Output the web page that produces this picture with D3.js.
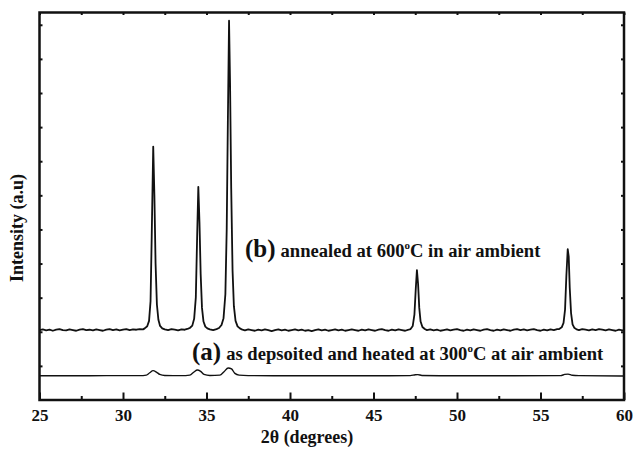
<!DOCTYPE html>
<html>
<head>
<meta charset="utf-8">
<script src="https://cdn.jsdelivr.net/npm/d3@7"></script>
<style>
body{margin:0;background:#fff;}
#canvas{width:633px;height:452px;}
text{font-family:"Liberation Serif","Times New Roman",serif;font-weight:bold;fill:#111;}
</style>
</head>
<body>
<div id="canvas"></div>
<script>
// tick labels
var xMajor = [25,30,35,40,45,50,55,60];
var xMinor = [27.5,32.5,37.5,42.5,47.5,52.5,57.5];
var yTicks = [100,200,300,400,500,600,700,800,900,1000,1100];

// (b) annealed at 600C : [2theta, intensity]
var traceB = [
[25.0,205],[25.2,207],[25.4,204],[25.6,206],[25.8,203],[26.0,206],[26.2,208],[26.4,205],[26.6,204],[26.8,207],
[27.0,205],[27.2,203],[27.4,206],[27.6,208],[27.8,205],[28.0,206],[28.2,204],[28.4,207],[28.6,205],[28.8,203],
[29.0,206],[29.2,208],[29.4,205],[29.6,207],[29.8,204],[30.0,206],[30.2,208],[30.4,205],[30.6,207],[30.8,206],
[31.0,208],[31.2,207],[31.3,210],[31.45,216],[31.56,232],[31.65,290],[31.72,480],[31.81,743],[31.88,600],[31.95,400],
[32.03,280],[32.12,235],[32.22,217],[32.35,210],[32.5,207],[32.7,205],[32.9,208],[33.1,206],[33.3,204],[33.5,207],
[33.7,206],[33.9,209],[34.0,211],[34.15,218],[34.26,238],[34.36,300],[34.44,480],[34.51,625],[34.58,520],[34.65,370],
[34.73,270],[34.82,230],[34.93,215],[35.05,210],[35.2,207],[35.4,205],[35.6,208],[35.75,211],[35.9,220],[36.02,240],
[36.13,310],[36.21,500],[36.28,820],[36.35,1112],[36.41,930],[36.48,620],[36.56,380],[36.64,275],[36.74,232],[36.86,216],
[37.0,210],[37.15,206],[37.3,204],[37.5,207],[37.7,205],[37.9,203],[38.1,206],[38.3,204],[38.5,207],[38.7,205],
[38.9,202],[39.1,205],[39.3,207],[39.5,204],[39.7,206],[39.9,203],[40.1,205],[40.3,207],[40.5,204],[40.7,206],
[40.9,203],[41.1,205],[41.3,202],[41.5,205],[41.7,207],[41.9,204],[42.1,206],[42.3,203],[42.5,205],[42.7,207],
[42.9,204],[43.1,206],[43.3,203],[43.5,205],[43.7,207],[43.9,205],[44.1,203],[44.3,206],[44.5,204],[44.7,207],
[44.9,205],[45.1,203],[45.3,206],[45.5,208],[45.7,205],[45.9,203],[46.1,206],[46.3,204],[46.5,207],[46.7,205],
[46.9,203],[47.1,206],[47.22,208],[47.35,217],[47.45,250],[47.53,325],[47.6,381],[47.67,340],[47.74,270],[47.82,230],
[47.93,214],[48.07,208],[48.2,205],[48.4,207],[48.6,204],[48.8,206],[49.0,203],[49.2,205],[49.4,207],[49.6,204],
[49.8,206],[50.0,208],[50.2,205],[50.4,203],[50.6,206],[50.8,204],[51.0,207],[51.2,205],[51.4,203],[51.6,206],
[51.8,208],[52.0,205],[52.2,203],[52.4,206],[52.6,204],[52.8,207],[53.0,205],[53.2,203],[53.4,206],[53.6,208],
[53.8,205],[54.0,207],[54.2,204],[54.4,206],[54.6,208],[54.8,205],[55.0,203],[55.2,206],[55.4,204],[55.6,207],
[55.8,205],[56.0,208],[56.12,208],[56.27,213],[56.38,226],[56.47,265],[56.55,365],[56.63,442],[56.69,420],[56.75,330],
[56.83,255],[56.92,222],[57.02,212],[57.16,207],[57.3,205],[57.5,208],[57.7,206],[57.9,204],[58.1,207],[58.3,205],
[58.5,208],[58.7,206],[58.9,204],[59.1,207],[59.3,205],[59.5,203],[59.7,206],[59.9,204],[60.0,205]
];

// (a) as deposited, heated at 300C
var traceA = [
[25.0,71],[27.0,71],[29.0,71.5],[31.0,71.5],[31.4,73],[31.6,80],[31.8,86],[32.0,82],[32.2,75],[32.5,72],
[33.5,71.5],[34.0,73],[34.25,82],[34.45,88],[34.65,84],[34.85,75],[35.2,72],[35.8,73],[36.05,83],[36.3,94],
[36.5,91],[36.7,78],[36.95,73],[37.5,71.5],[40.0,71],[44.0,71],[47.2,71.5],[47.5,74],[47.65,74.5],[47.9,72],
[50.0,71],[56.2,71.5],[56.45,75],[56.65,76],[56.9,72.5],[57.3,71.5],[60.0,70.5]
];

var pLeft = 39.5, pRight = 624, pTop = 12.5, pBottom = 400;

var init = function(){
	var svg = d3.select("#canvas").append("svg");
	svg.attr("id","svg");
	svg.attr("width",633);
	svg.attr("height",452);

	var x = d3.scaleLinear().domain([25,60]).range([pLeft,pRight]);
	var y = d3.scaleLinear().domain([0,1136]).range([pBottom,pTop]);

	var line = d3.line()
		.x(function(d){return x(d[0]);})
		.y(function(d){return y(d[1]);});

	svg.append("path")
		.attr("d",line(traceB))
		.attr("fill","none")
		.attr("stroke","#111")
		.attr("stroke-width",1.8)
		.attr("stroke-linejoin","round");

	var smooth = d3.line()
		.curve(d3.curveMonotoneX)
		.x(function(d){return x(d[0]);})
		.y(function(d){return y(d[1]);});

	svg.append("path")
		.attr("d",smooth(traceA))
		.attr("fill","none")
		.attr("stroke","#111")
		.attr("stroke-width",1.4);

	// axes, ticks inward on all four sides
	var bot = svg.append("g").attr("transform","translate(0,"+pBottom+")");
	bot.call(d3.axisBottom(x).tickValues(xMajor).tickSize(-7.5).tickFormat(d3.format("d")).tickPadding(9));
	var botMinor = svg.append("g").attr("transform","translate(0,"+pBottom+")");
	botMinor.call(d3.axisBottom(x).tickValues(xMinor).tickSize(-4).tickFormat(""));

	var topAx = svg.append("g").attr("transform","translate(0,"+pTop+")");
	topAx.call(d3.axisTop(x).tickValues(xMajor.concat(xMinor)).tickSize(-2.5).tickFormat(""));

	var leftAx = svg.append("g").attr("transform","translate("+pLeft+",0)");
	leftAx.call(d3.axisLeft(y).tickValues(yTicks).tickSize(-3).tickFormat(""));
	var rightAx = svg.append("g").attr("transform","translate("+pRight+",0)");
	rightAx.call(d3.axisRight(y).tickValues(yTicks).tickSize(-3).tickFormat(""));

	svg.selectAll(".domain").remove();
	svg.selectAll(".tick line").attr("stroke","#111").attr("stroke-width",2);
	bot.selectAll(".tick text")
		.attr("fill","#111")
		.attr("font-family","Liberation Serif, Times New Roman, serif")
		.attr("font-weight","bold")
		.attr("font-size","17px");

	svg.append("rect")
		.attr("x",pLeft).attr("y",pTop)
		.attr("width",pRight-pLeft).attr("height",pBottom-pTop)
		.attr("fill","none")
		.attr("stroke","#111")
		.attr("stroke-width",2.5);

	// axis titles
	var xt = svg.append("text");
	xt.attr("x",307).attr("y",443).attr("text-anchor","middle").attr("font-size","18px");
	xt.text("2θ (degrees)");

	var yt = svg.append("text");
	yt.attr("transform","translate(23,228) rotate(-90)").attr("text-anchor","middle").attr("font-size","18px");
	yt.text("Intensity (a.u)");

	// annotations
	label("(b)","annealed at 600","C in air ambient",245,257);
	label("(a)","as depsoited and heated at 300","C at air ambient",192,360);
}

var label = function(tag,pre,post,px,py){
	var t = d3.select("#svg").append("text");
	t.attr("x",px).attr("y",py).attr("font-size","18.6px");
	t.append("tspan").attr("font-size","25px").text(tag);
	t.append("tspan").attr("dx","5").text(pre);
	t.append("tspan").attr("font-size","11px").attr("dy","-8").text("o");
	t.append("tspan").attr("dy","8").text(post);
}

init();
</script>
</body>
</html>
